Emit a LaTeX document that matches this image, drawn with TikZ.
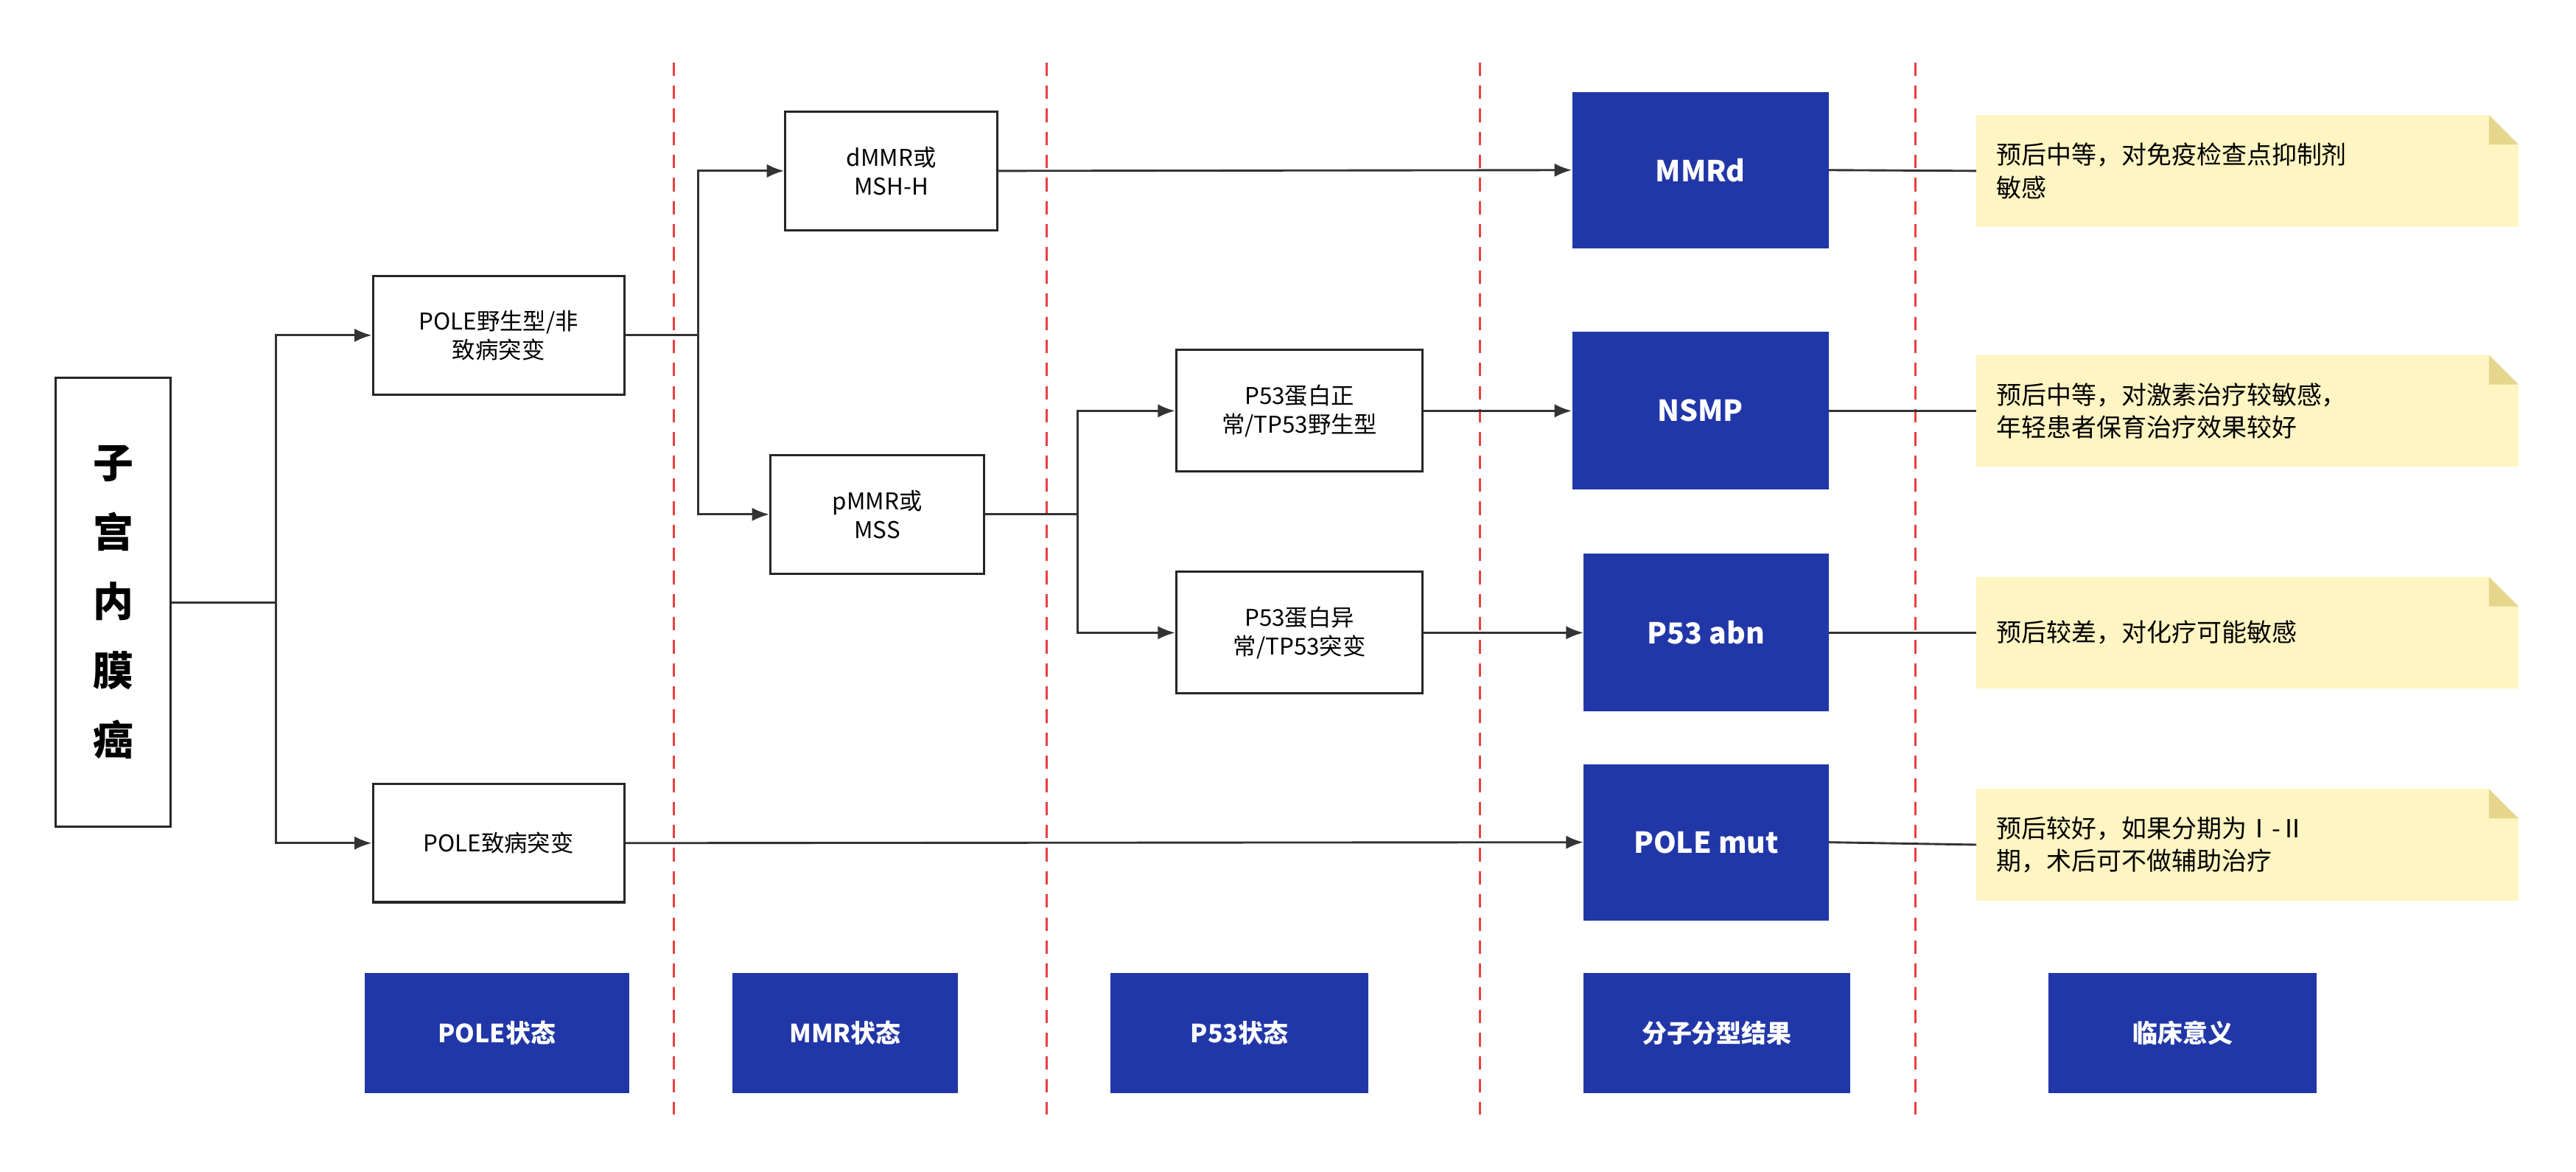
\documentclass[tikz,border=0pt]{standalone}
\usepackage{fontspec}
\setmainfont{Noto Sans CJK SC}
\usetikzlibrary{arrows.meta}
\definecolor{bl}{HTML}{2137A8}
\definecolor{nt}{HTML}{FFF5C2}
\definecolor{nf}{HTML}{E6D68C}
\definecolor{dr}{HTML}{E84040}
\begin{document}
\begin{tikzpicture}[x=0.03cm,y=-0.03cm,
 wb/.style={draw=black!85,line width=1.2pt,fill=white,align=center,font=\fontsize{12}{15}\selectfont,inner sep=0pt},
 bb/.style={fill=bl,text=white,align=center,font=\bfseries\fontsize{15}{18}\selectfont,inner sep=0pt},
 lb/.style={fill=bl,text=white,font=\bfseries\fontsize{13}{16}\selectfont,inner sep=0pt},
 ar/.style={draw=black!80,line width=1.1pt,-{Latex[length=9pt,width=7pt]}},
 ln/.style={draw=black!80,line width=1.1pt},
 dl/.style={draw=dr,line width=1.2pt,dash pattern=on 7pt off 5pt}]
\useasboundingbox (0,0) rectangle (1568,713);
\foreach \x in {410,637,901,1166} \draw[dl] (\x,38) -- (\x,678);
% main
\node[wb,minimum width=70*0.03cm,minimum height=273*0.03cm,font=\bfseries\fontsize{21}{36}\selectfont] (root) at (69,366.5) {子\\宫\\内\\膜\\癌};
\node[wb,minimum width=153*0.03cm,minimum height=72*0.03cm] (wt) at (303.5,204) {POLE野生型/非\\致病突变};
\node[wb,minimum width=153*0.03cm,minimum height=72*0.03cm] (mut) at (303.5,513) {POLE致病突变};
\node[wb,minimum width=129*0.03cm,minimum height=72*0.03cm] (dmmr) at (542.5,104) {dMMR或\\MSH-H};
\node[wb,minimum width=130*0.03cm,minimum height=72*0.03cm] (pmmr) at (534,313) {pMMR或\\MSS};
\node[wb,minimum width=150*0.03cm,minimum height=74*0.03cm] (pn) at (791,250) {P53蛋白正\\常/TP53野生型};
\node[wb,minimum width=150*0.03cm,minimum height=74*0.03cm] (pa) at (791,385) {P53蛋白异\\常/TP53突变};
\node[bb,minimum width=156*0.03cm,minimum height=95*0.03cm] (mmrd) at (1035,103.5) {MMRd};
\node[bb,minimum width=156*0.03cm,minimum height=96*0.03cm] (nsmp) at (1035,250) {NSMP};
\node[bb,minimum width=149*0.03cm,minimum height=96*0.03cm] (p53) at (1038.5,385) {P53 abn};
\node[bb,minimum width=149*0.03cm,minimum height=95*0.03cm] (pole) at (1038.5,512.5) {POLE mut};
% notes
\foreach \n/\y/\t in {n1/70/{预后中等，对免疫检查点抑制剂\\敏感},n2/216/{预后中等，对激素治疗较敏感，\\年轻患者保育治疗效果较好},n3/351/{预后较差，对化疗可能敏感},n4/480/{预后较好，如果分期为Ⅰ-Ⅱ\\期，术后可不做辅助治疗}}{
 \fill[nt] (1203,\y) -- (1515,\y) -- (1533,\y+18) -- (1533,\y+68) -- (1203,\y+68) -- cycle;
 \fill[nf] (1515,\y) -- (1533,\y+18) -- (1515,\y+18) -- cycle;
 \node[anchor=west,align=left,font=\fontsize{13}{17}\selectfont,inner sep=0pt] (\n) at (1215,\y+34) {\t};
 \coordinate (\n l) at (1203,\y+34);
}
% bottom labels
\node[lb,minimum width=161*0.03cm,minimum height=73*0.03cm] (l1) at (302.5,628.5) {POLE状态};
\node[lb,minimum width=137*0.03cm,minimum height=73*0.03cm] (l2) at (514.5,628.5) {MMR状态};
\node[lb,minimum width=157*0.03cm,minimum height=73*0.03cm] (l3) at (754.5,628.5) {P53状态};
\node[lb,minimum width=162*0.03cm,minimum height=73*0.03cm] (l4) at (1045,628.5) {分子分型结果};
\node[lb,minimum width=163*0.03cm,minimum height=73*0.03cm] (l5) at (1328.5,628.5) {临床意义};
% connectors
\draw[ln] (root.east) -- (168,366.5);
\draw[ar] (168,366.5) |- (wt.west);
\draw[ar] (168,366.5) |- (mut.west);
\draw[ln] (wt.east) -- (425,204);
\draw[ar] (425,204) |- (dmmr.west);
\draw[ar] (425,204) |- (pmmr.west);
\draw[ln] (pmmr.east) -- (656,313);
\draw[ar] (656,313) |- (pn.west);
\draw[ar] (656,313) |- (pa.west);
\draw[ar] (dmmr.east) -- (mmrd.west);
\draw[ar] (pn.east) -- (nsmp.west);
\draw[ar] (pa.east) -- (p53.west);
\draw[ar] (mut.east) -- (pole.west);
\draw[ln] (mmrd.east) -- (n1l);
\draw[ln] (nsmp.east) -- (n2l);
\draw[ln] (p53.east) -- (n3l);
\draw[ln] (pole.east) -- (n4l);
\end{tikzpicture}
\end{document}
